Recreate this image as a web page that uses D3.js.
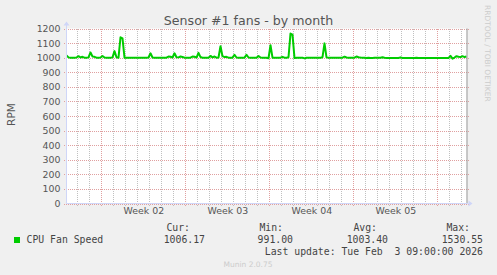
<html>
<head>
<script src="https://d3js.org/d3.v7.min.js"></script>
<style>
  body { margin: 0; background: #f0f0f0; }
  svg { display: block; }
</style>
</head>
<body>
<div id="chart"><svg width="497" height="275"></svg></div>
<script>
// data: 4-hour averages
var yTicks = [0, 100, 200, 300, 400, 500, 600, 700, 800, 900, 1000, 1100, 1200]
var seriesName = "CPU Fan Speed"
var fanSpeed = [
  1015, 1002, 1000, 1000, 1000, 1001, 1010, 1001, 1006, 1000,
  1000, 1002, 1036, 1008, 1006, 1000, 1000, 1001, 1012, 1001,
  1000, 1000, 1000, 1002, 1045, 1003, 1000, 1140, 1132, 1000,
  1000, 1000, 1000, 1000, 1000, 1000, 1000, 1000, 1000, 1000,
  1000, 1001, 1030, 1001, 1000, 1000, 1000, 1000, 1000, 1000,
  1000, 1008, 1006, 1001, 1030, 1003, 1002, 1008, 1005, 1000,
  1000, 1000, 1000, 1008, 1006, 1001, 1033, 1004, 1000, 1000,
  1000, 1000, 1012, 1002, 1008, 1000, 1001, 1078, 1010, 1004,
  1006, 1000, 1000, 1000, 1020, 1001, 1000, 1000, 1000, 1000,
  1020, 1001, 1000, 1000, 1000, 1000, 1012, 1001, 1000, 1000,
  1000, 996, 1085, 1000, 1000, 1000, 1000, 1000, 1006, 1000,
  1000, 1003, 1165, 1158, 997, 1000, 1000, 1000, 1000, 995,
  999, 1000, 1000, 1000, 1000, 1000, 1000, 1000, 1003, 1098,
  1002, 1000, 1000, 1000, 1000, 1000, 1000, 1000, 1000, 1007,
  1001, 1000, 1000, 1000, 1000, 1008, 1003, 1001, 1000, 999,
  997, 999, 997, 998, 999, 999, 999, 999, 1003, 999,
  998, 998, 998, 998, 998, 998, 998, 1002, 998, 998,
  997, 998, 998, 998, 998, 999, 998, 998, 998, 998,
  998, 998, 998, 998, 998, 998, 998, 998, 998, 998,
  998, 998, 1012, 993, 1001, 1010, 1006, 1004, 1010, 1004,
  1008
]
var legendHeads = ["Cur:", "Min:", "Avg:", "Max:"]
var legendValues = ["1006.17", "991.00", "1003.40", "1530.55"]
var lastUpdate = "Last update: Tue Feb  3 09:00:00 2026"

var start = new Date(2026, 0, 2, 2, 24)
var stepMs = 4 * 3600 * 1000
var end = new Date(+start + 400 / 12 * 86400000)

var svg = d3.select("#chart svg")
var L = 66.5, R = 466.5, T = 28.5, B = 203.5

var x = d3.scaleTime().domain([start, end]).range([L, R])
var y = d3.scaleLinear().domain([0, 1200]).range([B, T])

svg.append("rect").attr("width", 497).attr("height", 275).attr("fill", "#f0f0f0")
svg.append("rect").attr("x", L).attr("y", T).attr("width", R - L).attr("height", B - T).attr("fill", "#fff")

// title
svg.append("text").attr("x", 248.5).attr("y", 24.5).attr("text-anchor", "middle")
  .style("font", "12.6px 'DejaVu Sans'").attr("fill", "#555").text("Sensor #1 fans - by month")

svg.append("text").attr("transform", "translate(15,114.5) rotate(-90)").attr("text-anchor", "middle")
  .style("font", "10.6px 'DejaVu Sans'").attr("fill", "#555").text("RPM")

svg.append("text").attr("transform", "translate(484.5,5) rotate(90)")
  .style("font", "7.5px 'DejaVu Sans'").attr("fill", "#ccc").text("RRDTOOL / TOBI OETIKER")

// grid (dots start on whole pixels so they stay crisp)
var days = d3.timeDay.range(start, end).filter(function(d) { return d.getDay() != 1 })
var weeks = d3.timeMonday.range(start, end)

svg.append("g").selectAll("line").data(days).enter().append("line")
  .attr("x1", function(d) { return Math.round(x(d)) + 0.5 }).attr("x2", function(d) { return Math.round(x(d)) + 0.5 })
  .attr("y1", 29).attr("y2", 206)
  .attr("stroke", "#c0c0c0").attr("stroke-dasharray", "1,1")

svg.append("g").selectAll("line").data(weeks).enter().append("line")
  .attr("x1", function(d) { return Math.round(x(d)) + 0.5 }).attr("x2", function(d) { return Math.round(x(d)) + 0.5 })
  .attr("y1", 29).attr("y2", 207)
  .attr("stroke", "#e0a0a0").attr("stroke-dasharray", "1,1")

svg.append("g").selectAll("line").data(yTicks).enter().append("line")
  .attr("x1", 64).attr("x2", 469)
  .attr("y1", function(d) { return Math.round(y(d)) + 0.5 }).attr("y2", function(d) { return Math.round(y(d)) + 0.5 })
  .attr("stroke", "#e0a0a0").attr("stroke-dasharray", "1,1")

// y labels
var yAxis = svg.append("g").attr("transform", "translate(" + (L - 2) + ",0)")
  .call(d3.axisLeft(y).tickValues(yTicks).tickSize(0).tickPadding(4).tickFormat(d3.format("d")))
yAxis.select(".domain").remove()
yAxis.selectAll("text").style("font", "9.4px 'DejaVu Sans'").attr("fill", "#555")

// week labels centred on the weeks
var mids = weeks.map(function(d) { return d3.timeHour.offset(d, 84) }).filter(function(d) { return d < end })
var xAxis = svg.append("g").attr("transform", "translate(0," + B + ")")
  .call(d3.axisBottom(x).tickValues(mids).tickSize(0).tickPadding(4)
    .tickFormat(function(d) { return "Week " + d3.timeFormat("%V")(d) }))
xAxis.select(".domain").remove()
xAxis.selectAll("text").style("font", "9.4px 'DejaVu Sans'").attr("fill", "#555")

// series
var line = d3.line()
  .x(function(d, i) { return x(new Date(+start + i * stepMs)) })
  .y(function(d) { return y(d) })
svg.append("path").datum(fanSpeed).attr("d", line)
  .attr("fill", "none").attr("stroke", "#00cc00").attr("stroke-width", 2).attr("stroke-linejoin", "round")

// frame and arrows
svg.append("line").attr("x1", R + 0.5).attr("x2", R + 0.5).attr("y1", T).attr("y2", B)
  .attr("stroke", "#999")
svg.append("line").attr("x1", L).attr("x2", L).attr("y1", B).attr("y2", T - 4).attr("stroke", "#cfd6f8")
svg.append("line").attr("x1", L).attr("x2", R + 2).attr("y1", B).attr("y2", B).attr("stroke", "#cfd6f8")
svg.append("path").attr("d", "M" + (L - 3) + "," + (T - 3) + "L" + L + "," + (T - 7) + "L" + (L + 3) + "," + (T - 3) + "Z").attr("fill", "#cfd6f8")
svg.append("path").attr("d", "M" + (R + 2) + "," + (B - 3) + "L" + (R + 6) + "," + B + "L" + (R + 2) + "," + (B + 3) + "Z").attr("fill", "#cfd6f8")

// legend
var mono = "9.8px 'DejaVu Sans Mono'"
svg.append("rect").attr("x", 14).attr("y", 237).attr("width", 6).attr("height", 6).attr("fill", "#00cc00")
svg.append("text").attr("x", 26.5).attr("y", 243).style("font", mono).attr("fill", "#444").text(seriesName)
var colRight = [190, 283, 377, 470]
var valRight = [205, 293, 388, 483]
svg.append("g").selectAll("text").data(legendHeads).enter().append("text")
  .attr("x", function(d, i) { return colRight[i] }).attr("y", 231).attr("text-anchor", "end")
  .style("font", mono).attr("fill", "#444").text(function(d) { return d })
svg.append("g").selectAll("text").data(legendValues).enter().append("text")
  .attr("x", function(d, i) { return valRight[i] }).attr("y", 242.5).attr("text-anchor", "end")
  .style("font", mono).attr("fill", "#444").text(function(d) { return d })
svg.append("text").attr("x", 483).attr("y", 254.5).attr("text-anchor", "end").attr("xml:space", "preserve")
  .style("font", mono).style("white-space", "pre").attr("fill", "#444").text(lastUpdate)
svg.append("text").attr("x", 248).attr("y", 267).attr("text-anchor", "middle")
  .style("font", "7.5px 'DejaVu Sans'").attr("fill", "#ccc").text("Munin 2.0.75")
</script>
</body>
</html>
